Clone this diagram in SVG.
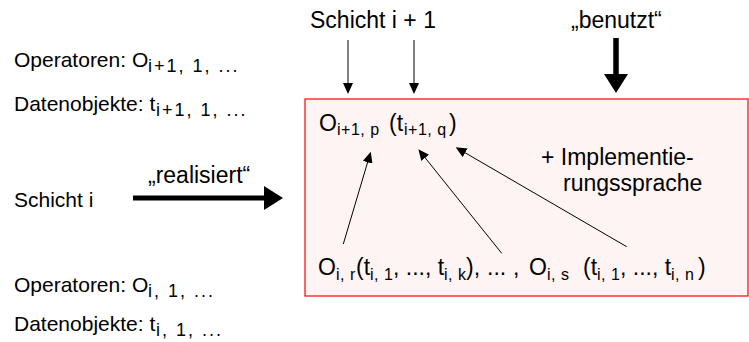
<svg xmlns="http://www.w3.org/2000/svg" width="749" height="342" viewBox="0 0 749 342">
<style>
  text { font-family: "Liberation Sans", Arial, sans-serif; font-size: 23px; fill: #000; }
  .left { font-size: 21px; }
  .sub { font-size: 16px; letter-spacing: 0.5px; }
  .lsub { font-size: 18px; letter-spacing: 2px; }
  .thin { stroke: #000; stroke-width: 1; fill: none; }
  .thick { stroke: #000; fill: none; }
</style>
<defs>
  <marker id="headThin" markerUnits="userSpaceOnUse" markerWidth="11" markerHeight="10" refX="1" refY="5" orient="auto">
    <path d="M0,0 L11,5 L0,10 z" fill="#000"/>
  </marker>
  <marker id="headThick" markerUnits="userSpaceOnUse" markerWidth="19" markerHeight="24" refX="1" refY="12" orient="auto">
    <path d="M0,0 L19,12 L0,24 z" fill="#000"/>
  </marker>
</defs>

<g id="layer-box">
  <rect x="305" y="99" width="443" height="197" fill="#fff4f4" stroke="#ff0000" stroke-width="1.2"/>
</g>

<g id="labels-top">
  <text x="310" y="28">Schicht i + 1</text>
  <text x="571" y="28">„benutzt“</text>
</g>

<g id="layer-upper-left">
  <text class="left" x="14" y="67">Operatoren: O</text>
  <text class="lsub" x="148" y="72">i+1, 1, ...</text>
  <text class="left" x="14" y="111">Datenobjekte: t</text>
  <text class="lsub" x="156" y="116">i+1, 1, ...</text>
</g>

<g id="layer-i">
  <text class="left" x="14" y="207">Schicht i</text>
  <text x="148" y="183">„realisiert“</text>
</g>

<g id="layer-lower-left">
  <text class="left" x="14" y="292">Operatoren: O</text>
  <text class="lsub" x="148" y="297">i, 1, ...</text>
  <text class="left" x="14" y="331">Datenobjekte: t</text>
  <text class="lsub" x="156" y="336">i, 1, ...</text>
</g>

<g id="box-top-expr">
  <text x="319" y="131">O</text>
  <text class="sub" x="337" y="135">i+1, p</text>
  <text x="389" y="131">(t</text>
  <text class="sub" x="404" y="135">i+1, q</text>
  <text x="449" y="131">)</text>
</g>

<g id="box-impl">
  <text x="541" y="165">+ Implementie-</text>
  <text x="563" y="191">rungssprache</text>
</g>

<g id="box-bottom-expr">
  <text x="318" y="275">O</text>
  <text class="sub" x="336" y="280">i, r</text>
  <text x="356" y="275">(t</text>
  <text class="sub" x="370" y="280">i, 1</text>
  <text x="393" y="275">, ..., t</text>
  <text class="sub" x="444" y="280">i, k</text>
  <text x="466" y="275">),</text>
  <text x="487" y="275">...</text>
  <text x="513" y="275">,</text>
  <text x="529" y="275">O</text>
  <text class="sub" x="547" y="280">i, s</text>
  <text x="583" y="275">(t</text>
  <text class="sub" x="597" y="280">i, 1</text>
  <text x="620" y="275">, ..., t</text>
  <text class="sub" x="671" y="280">i, n</text>
  <text x="698" y="275">)</text>
</g>

<g id="connectors">
  <line class="thin" x1="348" y1="40" x2="348" y2="84" marker-end="url(#headThin)"/>
  <line class="thin" x1="414" y1="40" x2="414" y2="84" marker-end="url(#headThin)"/>
  <line class="thick" stroke-width="5.5" x1="616" y1="38" x2="616" y2="75" marker-end="url(#headThick)"/>
  <line class="thick" stroke-width="5" x1="133" y1="198" x2="265" y2="198" marker-end="url(#headThick)"/>
  <line class="thin" x1="343.3" y1="244" x2="367.9" y2="161.3" marker-end="url(#headThin)"/>
  <line class="thin" x1="501.7" y1="253.3" x2="424.6" y2="157.1" marker-end="url(#headThin)"/>
  <line class="thin" x1="626.7" y1="246.7" x2="464.3" y2="152.3" marker-end="url(#headThin)"/>
</g>
</svg>
